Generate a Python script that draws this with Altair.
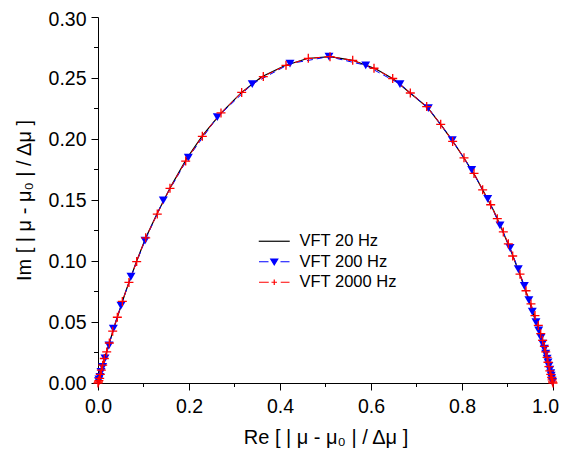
import altair as alt
import pandas as pd

series_names = ["VFT 20 Hz", "VFT 200 Hz", "VFT 2000 Hz"]
series_colors = ["#000000", "#0000FF", "#FF0000"]

# VFT 20 Hz (solid black line)
line20_re = [0.0, 0.005, 0.012, 0.025, 0.04, 0.06, 0.085, 0.105, 0.13, 0.16, 0.195, 0.23,
             0.27, 0.315, 0.36, 0.41, 0.46, 0.51, 0.56, 0.61, 0.65, 0.69, 0.725, 0.755,
             0.78, 0.805, 0.83, 0.85, 0.87, 0.89, 0.91, 0.93, 0.945, 0.96, 0.97, 0.98,
             0.988, 0.995, 1.0]
line20_im = [0.0, 0.007, 0.017, 0.033, 0.051, 0.074, 0.1, 0.119, 0.139, 0.161, 0.184, 0.203,
             0.221, 0.238, 0.251, 0.26, 0.266, 0.2675, 0.2645, 0.2575, 0.249, 0.2365, 0.2255, 0.211,
             0.198, 0.184, 0.169, 0.155, 0.141, 0.124, 0.106, 0.086, 0.07, 0.053, 0.042, 0.029,
             0.018, 0.008, 0.0]

# VFT 200 Hz (blue down-triangles)
tri200_re = [0.001, 0.002, 0.0044, 0.0066, 0.0103, 0.0154, 0.0242, 0.0337, 0.0505, 0.0725,
             0.1033, 0.1435, 0.1985, 0.2622, 0.339, 0.422, 0.5077, 0.5884, 0.6637, 0.726,
             0.7787, 0.8213, 0.8565, 0.8835, 0.9055, 0.9237, 0.937, 0.947, 0.9545, 0.9626,
             0.9686, 0.9736, 0.9773, 0.981, 0.984, 0.987, 0.989, 0.991, 0.993, 0.995,
             0.996, 0.997, 0.998, 0.999]
tri200_im = [0.0015, 0.003, 0.0051, 0.0092, 0.0133, 0.0201, 0.0309, 0.0445, 0.0634, 0.0872,
             0.1168, 0.1496, 0.1848, 0.2179, 0.245, 0.2618, 0.2675, 0.2604, 0.245, 0.2254,
             0.199, 0.1746, 0.151, 0.1293, 0.1108, 0.0933, 0.0797, 0.068, 0.0585, 0.0498,
             0.0431, 0.0372, 0.0323, 0.0282, 0.024, 0.02, 0.017, 0.014, 0.011, 0.008,
             0.006, 0.004, 0.002, 0.001]

# VFT 2000 Hz (red plus)
plus2000_re = [0.0, 0.001, 0.002, 0.0037, 0.0051, 0.0073, 0.0103, 0.0139, 0.0191, 0.0249,
               0.0323, 0.0425, 0.0535, 0.068, 0.085, 0.1048, 0.1303, 0.1582, 0.1927, 0.2293,
               0.2703, 0.3158, 0.3633, 0.4132, 0.4622, 0.5099, 0.5598, 0.6066, 0.6477, 0.6864,
               0.7224, 0.7532, 0.7795, 0.8044, 0.8264, 0.8454, 0.863, 0.8776, 0.8908, 0.9018,
               0.9114, 0.9275, 0.9407, 0.9516, 0.9604, 0.9677, 0.973, 0.9773, 0.981, 0.984,
               0.987, 0.989, 0.991, 0.993, 0.995, 0.997, 0.998, 0.999, 1.0]
plus2000_im = [0.0, 0.001, 0.002, 0.0038, 0.0071, 0.0106, 0.0146, 0.0201, 0.0255, 0.0328,
               0.0425, 0.0539, 0.0669, 0.0824, 0.0995, 0.119, 0.1385, 0.1596, 0.1819, 0.2022,
               0.2214, 0.2382, 0.2512, 0.2604, 0.2661, 0.2675, 0.2645, 0.258, 0.2496, 0.2377,
               0.2266, 0.212, 0.198, 0.1846, 0.1718, 0.1583, 0.1461, 0.1347, 0.1238, 0.1141,
               0.1041, 0.0892, 0.0756, 0.0648, 0.0553, 0.0472, 0.0404, 0.035, 0.03, 0.0255,
               0.021, 0.017, 0.0135, 0.01, 0.007, 0.0045, 0.0025, 0.001, 0.0]

x_major = [0.0, 0.2, 0.4, 0.6, 0.8, 1.0]
x_minor = [0.1, 0.3, 0.5, 0.7, 0.9]
y_major = [0.0, 0.05, 0.10, 0.15, 0.20, 0.25, 0.30]
y_minor = [0.025, 0.075, 0.125, 0.175, 0.225, 0.275]

FONT = "Liberation Sans"
W, H = 455, 366

def frame(xs, ys, name):
    return pd.DataFrame({"re": xs, "im": ys, "series": name, "idx": list(range(len(xs)))})

d20 = frame(line20_re, line20_im, series_names[0])
d200 = frame(tri200_re, tri200_im, series_names[1])
d2000 = frame(plus2000_re, plus2000_im, series_names[2])

xscale = alt.Scale(domain=[0, 1], nice=False, zero=False)
yscale = alt.Scale(domain=[0, 0.30], nice=False, zero=False)

xaxis = alt.Axis(values=x_major, format=".1f", title="Re [ | μ - μ₀ | / Δμ ]",
                 labelFlush=False, labelOverlap=False, tickSize=7, labelPadding=7,
                 labelOffset={"condition": {"test": "datum.value == 1", "value": -8}, "value": 0},
                 titlePadding=12, grid=False)
yaxis = alt.Axis(values=y_major, format=".2f", title="Im [ | μ - μ₀ | / Δμ ]",
                 labelFlush=False, labelOverlap=False, tickSize=7, labelPadding=5,
                 labelOffset={"condition": {"test": "datum.value == 0.3", "value": 2}, "value": 0},
                 titlePadding=14, grid=False)

X = alt.X("re:Q", scale=xscale, axis=xaxis)
Y = alt.Y("im:Q", scale=yscale, axis=yaxis)

line20 = alt.Chart(d20).mark_line(color=series_colors[0], strokeWidth=1.2).encode(
    x=X, y=Y, order="idx:Q")
line200 = alt.Chart(d200).mark_line(color=series_colors[1], strokeWidth=1,
                                    strokeDash=[6, 4]).encode(x=X, y=Y, order="idx:Q")
pts200 = alt.Chart(d200).mark_point(shape="triangle-down", filled=True, opacity=1,
                                    color=series_colors[1], size=80).encode(x=X, y=Y)
line2000 = alt.Chart(d2000).mark_line(color=series_colors[2], strokeWidth=1,
                                      strokeDash=[6, 4]).encode(x=X, y=Y, order="idx:Q")
pts2000 = alt.Chart(d2000).mark_point(shape="M-1,0L1,0M0,-1L0,1", filled=False, opacity=1,
                                      color=series_colors[2], strokeWidth=1.3,
                                      size=81).encode(x=X, y=Y)

# minor ticks (same fields/axes as the main layers so the axes merge)
xm = alt.Chart(pd.DataFrame({"re": x_minor})).mark_rule(color="black", strokeWidth=1).encode(
    x=X, y=alt.value(H), y2=alt.value(H + 4))
ym = alt.Chart(pd.DataFrame({"im": y_minor})).mark_rule(color="black", strokeWidth=1).encode(
    y=Y, x=alt.value(0), x2=alt.value(-4))

legend_paths = [
    "M-3.1,0L3.1,0",
    "M-3.05,0L-1.15,0M1.25,0L3.05,0M-0.7,-0.55L0.7,-0.55L0,0.6Z",
    "M-3.05,0L-1.1,0M1.3,0L3.05,0M-0.55,0L0.55,0M0,-0.55L0,0.55",
]
leg_df = pd.DataFrame({"series": series_names})
legend = alt.Legend(title=None, orient="none", legendX=168, legendY=216, padding=0,
                    labelFont=FONT, labelFontSize=16.5, labelColor="black", labelOffset=17,
                    rowPadding=3.5, symbolStrokeWidth=1.2)
leg = alt.Chart(leg_df).mark_point(filled=True, size=144, opacity=1, strokeWidth=1.2).encode(
    shape=alt.Shape("series:N", scale=alt.Scale(domain=series_names, range=legend_paths),
                    legend=legend),
    fill=alt.Fill("series:N", scale=alt.Scale(domain=series_names, range=series_colors),
                  legend=legend),
    stroke=alt.Stroke("series:N", scale=alt.Scale(domain=series_names, range=series_colors),
                      legend=legend),
    x=alt.value(0), y=alt.value(0),
).transform_filter("datum.series == 'none'")

chart = alt.layer(line20, line200, line2000, pts200, pts2000, xm, ym, leg).properties(
    width=W, height=H,
    autosize=alt.AutoSizeParams(type="none"),
    padding={"left": 90, "top": 9, "right": 6, "bottom": 71},
).configure_view(stroke=None).configure_axis(
    labelFont=FONT, titleFont=FONT, labelFontSize=19.5, titleFontSize=20,
    titleFontWeight="normal", labelColor="black", titleColor="black",
    domainColor="black", tickColor="black", domainWidth=1, tickWidth=1,
)

chart.save("out.html", embed_options={"renderer": "svg", "actions": False})
